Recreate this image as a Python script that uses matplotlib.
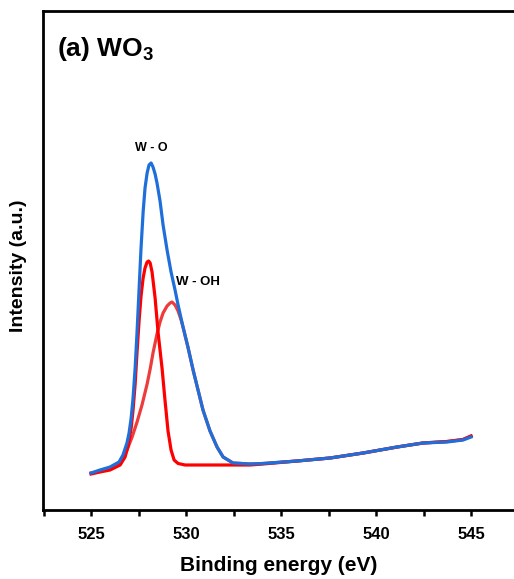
import numpy as np
import matplotlib
matplotlib.use("Agg")
from matplotlib import pyplot as plt
from matplotlib.ticker import MultipleLocator

plt.rcParams['font.family'] = ['Liberation Sans', 'DejaVu Sans']

# envelope (sum of fit)
env_x = [525.00, 525.47, 526.00, 526.47, 526.68, 526.89, 527.00, 527.11, 527.21, 527.32,
         527.42, 527.53, 527.63, 527.74, 527.84, 527.95, 528.05, 528.16, 528.26, 528.37,
         528.47, 528.63, 528.79, 529.00, 529.21, 529.42, 529.58, 529.84, 530.11, 530.37,
         530.63, 530.89, 531.26, 531.63, 531.95, 532.47, 533.37, 534.05, 535.84, 537.58,
         539.32, 541.11, 542.47, 543.74, 544.58, 545.00]
env_y = [37, 40, 43, 48, 55, 67, 77, 92, 112, 142,
         178, 222, 262, 298, 322, 337, 345, 347, 343, 336,
         327, 309, 285, 260, 238, 220, 205, 183, 162, 140,
         120, 100, 79, 63, 53, 47, 46, 46.5, 49, 52,
         57, 63, 67, 68, 70, 73]

# W - O component
wo_x = [525.00, 525.47, 526.00, 526.53, 526.79, 526.95, 527.11, 527.21, 527.32, 527.42,
        527.53, 527.63, 527.74, 527.84, 527.95, 528.03, 528.11, 528.21, 528.37, 528.53,
        528.74, 528.89, 529.05, 529.21, 529.37, 529.58, 529.95, 530.74, 533.37, 534.05,
        535.84, 537.58, 539.32, 541.11, 542.47, 543.74, 544.58, 545.00]
wo_y = [36, 38, 40, 45, 53, 64, 82, 100, 126, 158,
        190, 214, 232, 242, 248, 249, 247, 238, 212, 177,
        141, 110, 79, 60, 50, 46.5, 45, 45, 45, 46,
        49, 52, 57, 63, 67, 68.5, 70.5, 74]

# W - OH component
woh_x = [525.00, 525.32, 526.00, 526.37, 526.63, 526.89, 527.16, 527.42, 527.68, 527.95,
         528.11, 528.26, 528.47, 528.63, 528.79, 529.00, 529.16, 529.26, 529.42, 529.58,
         529.74, 529.84, 530.11, 530.37, 530.63, 530.89, 531.26, 531.63, 531.95, 532.47,
         533.37, 534.05, 535.84, 537.58, 539.32, 541.11, 542.47, 543.74, 544.58, 545.00]
woh_y = [37, 38, 41, 44, 50, 60, 73, 88, 105, 126,
         141, 157, 176, 188, 197, 204, 207, 208, 205, 199,
         190, 183, 162, 140, 120, 100, 79, 63, 53, 47,
         46, 46.5, 49, 52, 57, 63, 67, 68.5, 70.5, 74]

fig = plt.figure(figsize=(5.14, 5.79), dpi=100)
ax = fig.add_axes([43/514, 1 - 510/579, 1 - 43/514, 499/579])

ax.plot(woh_x, woh_y, color='#ee3b3b', lw=2.3)
ax.plot(wo_x, wo_y, color='#ff0000', lw=2.3)
ax.plot(env_x, env_y, color='#1f6fdb', lw=2.3)

ax.set_xlim(522.47, 547.26)
ax.set_ylim(0, 499)

ax.spines['right'].set_visible(False)
for s in ['left', 'bottom', 'top']:
    ax.spines[s].set_linewidth(2)

ax.xaxis.set_major_locator(MultipleLocator(5))
ax.xaxis.set_minor_locator(MultipleLocator(2.5))
ax.tick_params(axis='x', which='both', direction='out', length=4, width=1.8,
               labelsize=12, pad=8)
ax.tick_params(axis='y', left=False, labelleft=False)
for lab in ax.get_xticklabels():
    lab.set_fontweight('bold')

ax.set_xlabel('Binding energy (eV)', fontsize=15, fontweight='bold', labelpad=10)
ax.set_ylabel('Intensity (a.u.)', fontsize=14, fontweight='bold')
ax.yaxis.set_label_coords(-0.033, 0.49)

ax.text(523.2, 475, r'(a) WO$_\mathregular{3}$', fontsize=19, fontweight='bold', va='top')
ax.text(528.15, 356, 'W - O', fontsize=9, fontweight='bold', ha='center', va='bottom')
ax.text(530.6, 222, 'W - OH', fontsize=9.5, fontweight='bold', ha='center', va='bottom')

fig.savefig('out.png', dpi=100)
